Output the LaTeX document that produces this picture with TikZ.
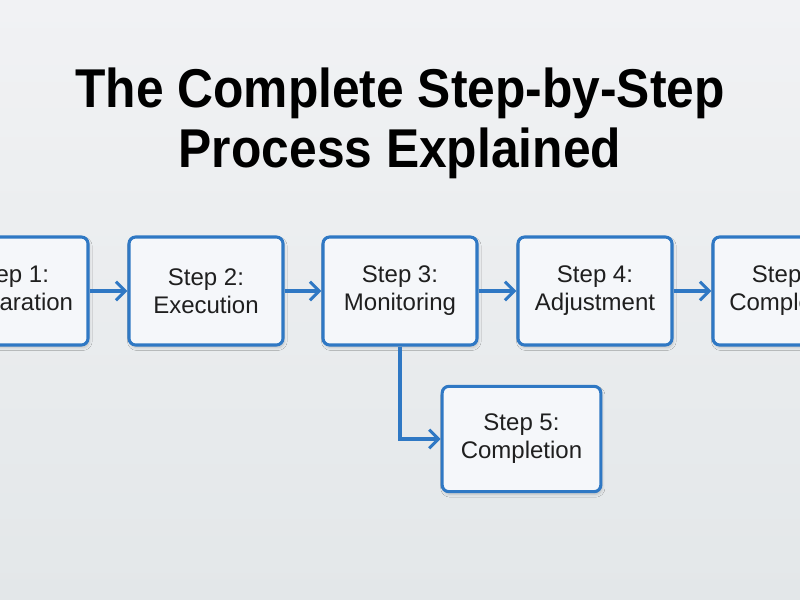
\documentclass[tikz,border=0pt]{standalone}
\usepackage{fontspec}
\setmainfont{Liberation Sans}
\usetikzlibrary{arrows.meta,shadows.blur}
\definecolor{bgtop}{HTML}{F1F2F4}
\definecolor{bgbot}{HTML}{E3E7E9}
\definecolor{boxblue}{HTML}{2F78C4}
\definecolor{boxfill}{HTML}{F5F7FA}
\tikzset{
  stepbox/.style={draw=boxblue, line width=2.3pt, fill=boxfill, rounded corners=5pt,
    minimum width=115.5pt, minimum height=81pt, align=center,
    font=\fontsize{18}{21}\selectfont, text=black!88,
    blur shadow={shadow blur steps=6, shadow xshift=1pt, shadow yshift=-2pt, shadow opacity=18}},
  flow/.style={draw=boxblue, line width=2.3pt, -{Straight Barb[length=7pt,width=14pt,line width=2.3pt]}},
  titletext/.style={font=\fontsize{41}{45}\selectfont\bfseries, xscale=0.91, anchor=base, text=black},
}
\begin{document}
\begin{tikzpicture}[x=0.75pt,y=-0.75pt]
\useasboundingbox (0,0) rectangle (800,600);
\clip (0,0) rectangle (800,600);
\shade[top color=bgtop, bottom color=bgbot] (0,0) rectangle (800,600);
\node[titletext] (title1) at (400,107) {The Complete Step-by-Step};
\node[titletext] (title2) at (400,167) {Process Explained};
\node[stepbox] (s1) at (11,291) {Step 1:\\Preparation};
\node[stepbox] (s2) at (206,291) {Step 2:\\Execution};
\node[stepbox] (s3) at (400,291) {Step 3:\\Monitoring};
\node[stepbox] (s4) at (595,291) {Step 4:\\Adjustment};
\node[stepbox] (s5a) at (790,291) {Step 5:\\Completion};
\node[stepbox, minimum width=119pt, minimum height=79pt] (s5b) at (521.5,439) {Step 5:\\Completion};
\draw[flow] (s1) -- (s2);
\draw[flow] (s2) -- (s3);
\draw[flow] (s3) -- (s4);
\draw[flow] (s4) -- (s5a);
\draw[flow] (s3.south) |- (s5b.west);
\end{tikzpicture}
\end{document}
